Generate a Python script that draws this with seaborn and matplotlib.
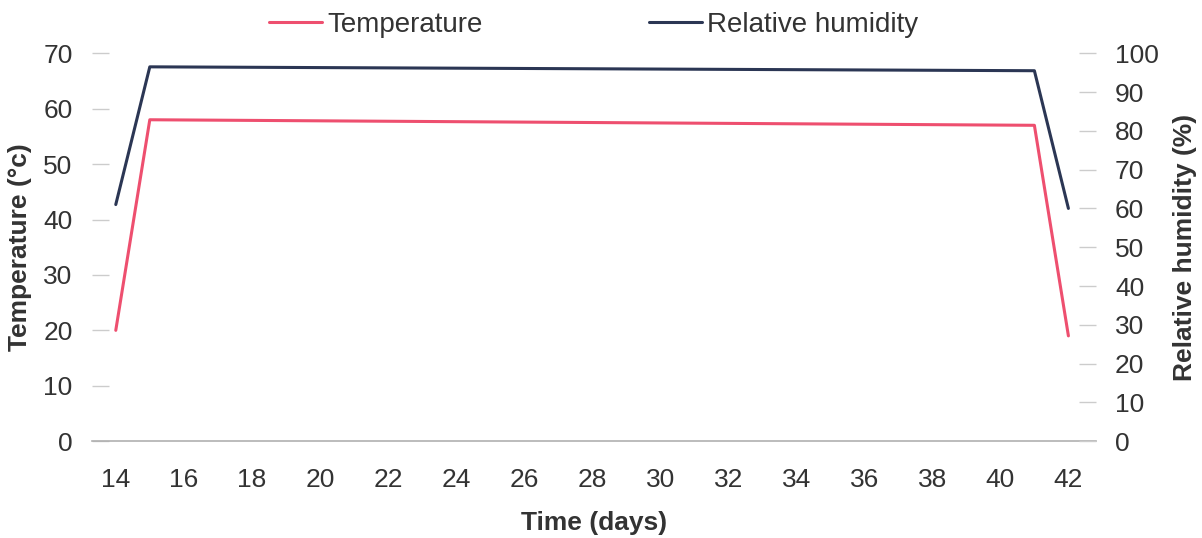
import pandas as pd
import seaborn as sns
import matplotlib.pyplot as plt
from matplotlib.lines import Line2D

# Data
days = [14, 15, 41, 42]
temperature = [20, 58, 57, 19]
humidity = [61, 96.5, 95.5, 60]
x_ticks = list(range(14, 43, 2))

df = pd.DataFrame({'Day': days, 'Temperature': temperature, 'Humidity': humidity})

sns.set_style('white')
plt.rcParams['font.family'] = ['Liberation Sans', 'DejaVu Sans']

text_col = '#333333'
red = '#ee4f6f'
navy = '#2b3654'

fig = plt.figure(figsize=(12.02, 5.38), dpi=100)
ax = fig.add_axes([0.0765, 0.180, 0.835, 0.721])
ax2 = ax.twinx()

sns.lineplot(data=df, x='Day', y='Temperature', ax=ax, color=red, linewidth=2.2)
sns.lineplot(data=df, x='Day', y='Humidity', ax=ax2, color=navy, linewidth=2.2)

ax.set_xlim(13.3, 42.8)
ax.set_ylim(0, 70)
ax2.set_ylim(0, 100)
ax.set_xticks(x_ticks)
ax.set_yticks(range(0, 71, 10))
ax2.set_yticks(range(0, 101, 10))

for a in (ax, ax2):
    for s in a.spines.values():
        s.set_visible(False)
ax.spines['bottom'].set_visible(True)
ax.spines['bottom'].set_color('#b0b0b0')
ax.spines['bottom'].set_linewidth(1.2)

ax.tick_params(axis='y', length=12, width=1, color='#cccccc', direction='in',
               labelsize=19, labelcolor=text_col, pad=14)
ax.tick_params(axis='x', length=0, labelsize=19, labelcolor=text_col, pad=19)
ax2.tick_params(axis='y', length=12, width=1, color='#cccccc', direction='in',
                labelsize=19, labelcolor=text_col, pad=14)

ax.set_xlabel('Time (days)', fontsize=19, fontweight='bold', color=text_col, labelpad=14)
ax.set_ylabel('Temperature (°c)', fontsize=19, fontweight='bold', color=text_col, labelpad=8)
ax2.set_ylabel('Relative humidity (%)', fontsize=19, fontweight='bold', color=text_col, labelpad=10)

handles = [Line2D([], [], color=red, linewidth=2.2), Line2D([], [], color=navy, linewidth=2.2)]
fig.legend(handles, ['Temperature', 'Relative humidity'], loc='upper center',
           bbox_to_anchor=(0.494, 1.025), ncol=2, frameon=False, fontsize=20,
           handlelength=1.9, handletextpad=0.18, columnspacing=6.0, labelcolor=text_col)

fig.savefig('out.png', dpi=100)
